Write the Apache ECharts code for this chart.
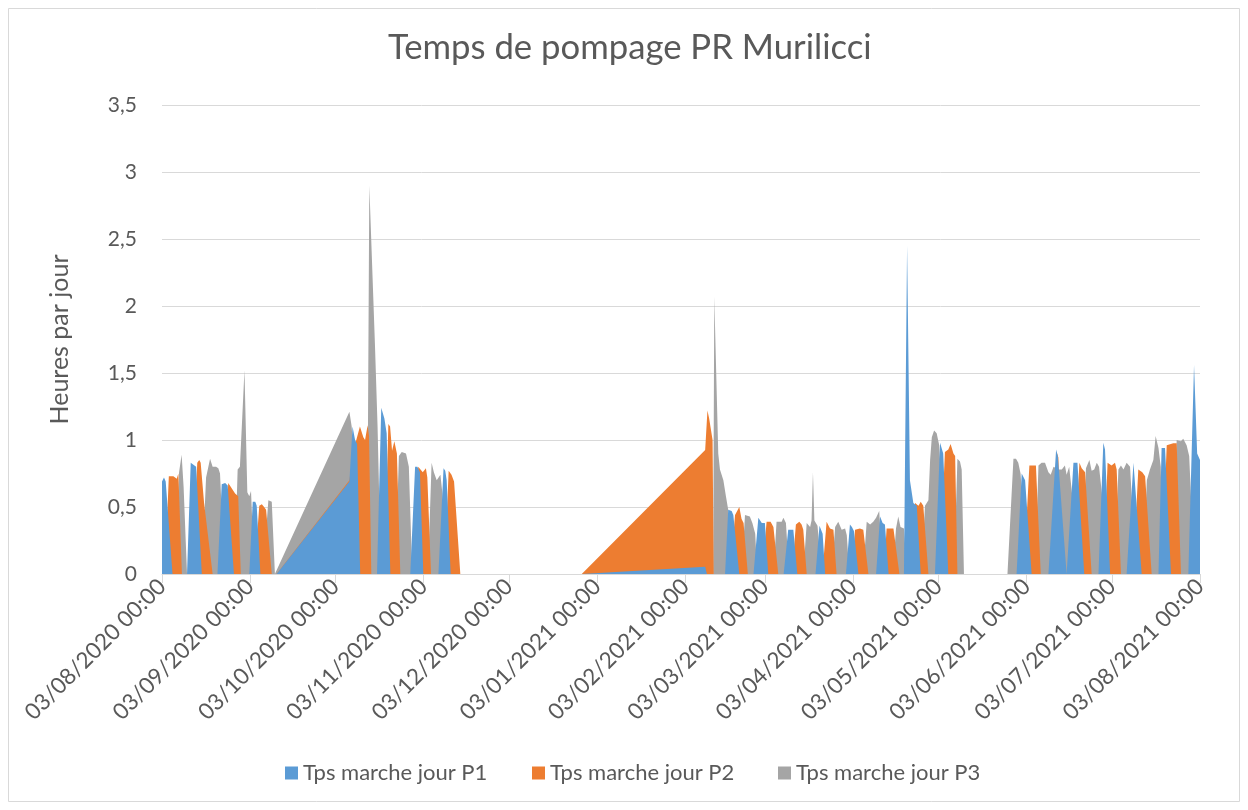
<!DOCTYPE html>
<html>
<head>
<meta charset="utf-8">
<script src="https://cdn.jsdelivr.net/npm/echarts@6/dist/echarts.min.js"></script>
<style>
html,body{margin:0;padding:0;background:#fff;}
#chart{width:1248px;height:810px;}
</style>
</head>
<body>
<div id="chart"></div>
<script>
// Tick labels of the date axis
const tickLabels = ['03/08/2020 00:00','03/09/2020 00:00','03/10/2020 00:00','03/11/2020 00:00','03/12/2020 00:00','03/01/2021 00:00','03/02/2021 00:00','03/03/2021 00:00','03/04/2021 00:00','03/05/2021 00:00','03/06/2021 00:00','03/07/2021 00:00','03/08/2021 00:00'];
const seriesNames = ['Tps marche jour P1','Tps marche jour P2','Tps marche jour P3'];

// Days elapsed since 03/08/2020 and hours per day, per pump
const p1Days = [0,0.7,1.3,3.7, 8.8,10.1,10.8,12.0,14.0, 19.5,21.0,22.2,23.1,25.3, 30.7,31.9,32.8,33.3,34.6,
  40.3,65.9,67.0,67.9,68.6,69.7, 75.6,77.1,78.2,79.0,80.3, 87.3,89.0,89.8,90.7,91.9, 97.2,99.0,99.6,100.1,101.5,
  147.6,191.0,191.6, 198.0,199.1,200.3,200.9,203.0, 208.0,209.7,210.9,212.0,213.2, 218.6,220.2,222.0,223.4,
  229.8,231.2,232.3,233.2, 240.5,241.9,242.6,243.3,244.9, 251.1,252.5,253.4,254.2,255.5,
  260.9,262.0,263.0,264.2,265.4,266.8, 271.8,273.6,274.7,275.3,276.5, 300.5,302.3,303.5,304.0,305.8,
  311.7,314.4,315.0,318.1, 318.7,320.5,321.9,324.3, 329.3,331.0,331.6,333.4, 339.2,341.6,342.1,344.5,
  350.4,351.5,352.7,354.8, 360.9,362.9,364.0,365.0];
const p1Vals = [0.69,0.72,0.69,0, 0,0.83,0.82,0.80,0, 0,0.67,0.68,0.66,0, 0,0.54,0.54,0.51,0,
  0,0.69,1.10,1.00,0.97,0, 0,1.24,1.16,1.05,0, 0,0.80,0.80,0.76,0, 0,0.79,0.77,0.70,0,
  0,0.055,0, 0,0.48,0.47,0.44,0, 0,0.42,0.38,0.38,0, 0,0.33,0.33,0,
  0,0.36,0.30,0, 0,0.37,0.35,0.32,0, 0,0.43,0.38,0.37,0,
  0,2.45,0.70,0.53,0.51,0, 0,0.98,0.90,0.90,0, 0,0.75,0.70,0.69,0,
  0,0.93,0.88,0, 0,0.83,0.83,0, 0,0.98,0.93,0, 0,0.83,0.83,0,
  0,0.94,0.94,0, 0,1.56,0.90,0.85];

const p2Days = [1.0,2.4,2.9,4.0,5.2,5.75,6.0,7.0, 10.6,12.4,13.1,13.6,14.8,17.8, 21.5,23.3,24.5,25.7,26.8,27.7,
  32.5,34.2,35.1,35.9,36.6,38.6, 40.3,65.9,67.5,68.2,69.6,70.8,71.4,72.3,72.8,73.6,
  78.2,79.6,80.2,80.9,81.7,82.6,83.8, 88.5,90.1,91.7,92.8,93.3,94.6, 99.3,100.8,101.8,102.7,104.9,
  147.6,191.0,191.8,192.4,193.6,194.0, 199.8,201.5,202.2,203.0,203.8,204.5,206.0,
  211.0,212.6,214.0,215.0,216.7, 221.5,222.9,224.1,224.9,225.5,226.7, 232.2,233.7,234.9,236.1,237.2,
  242.5,243.7,245.4,246.6,248.4, 253.8,254.8,257.2,259.3, 263.5,264.8,266.0,266.8,267.7,269.5,
  273.5,275.3,276.5,277.3,278.3,278.9,279.7, 303.0,305.0,306.4,307.3,309.0, 313.0,314.6,315.2,316.5,
  320.5,322.6,323.4,324.6,326.9, 331.0,332.5,333.9,335.1,335.7,337.2, 341.5,343.3,344.7,345.7,348.0,
  351.5,353.3,355.6,356.8,358.3];
const p2Vals = [0,0.73,0.74,0.73,0.71,0.75,0.74,0, 0,0.83,0.85,0.83,0.53,0, 0,0.68,0.64,0.60,0.58,0,
  0,0.51,0.52,0.50,0.48,0, 0,0.70,0.95,0.99,1.10,1.02,1.00,1.11,1.03,0,
  0,1.12,1.10,0.92,0.99,0.90,0, 0,0.80,0.76,0.79,0.72,0, 0,0.77,0.74,0.69,0,
  0,0.925,1.22,1.16,1.00,0, 0,0.44,0.43,0.50,0.41,0.38,0,
  0,0.39,0.39,0.35,0, 0,0.37,0.39,0.37,0.33,0, 0,0.39,0.34,0.33,0,
  0,0.33,0.34,0.33,0, 0,0.34,0.34,0, 0,0.53,0.51,0.54,0.51,0,
  0,0.91,0.93,0.97,0.90,0.88,0, 0,0.81,0.81,0.81,0, 0,0.91,0.87,0,
  0,0.83,0.79,0.76,0, 0,0.83,0.81,0.83,0.78,0, 0,0.78,0.76,0.73,0,
  0,0.96,0.975,0.975,0];

const p3Days = [4.6,6.0,6.9,7.6,8.8, 14.0,15.5,16.9,17.8,19.0,19.8,20.4,22.0, 25.5,26.6,27.4,28.0,29.0,30.0,30.7,31.3,32.5,
  35.5,37.4,38.0,38.6,39.7, 40.3,65.9,66.7,67.3,68.5, 71.6,72.4,72.9,74.9,75.8,77.0,
  82.0,83.3,84.3,85.8,86.8,88.0, 93.5,94.8,95.6,96.6,97.9,98.6,99.5,
  193.8,194.2,194.9,195.6,196.2,197.4,198.3,199.1,200.0, 203.8,205.0,206.7,207.6,208.6,209.3,
  215.0,216.1,217.9,218.5,219.4,220.5, 225.5,226.7,227.9,228.4,228.9,229.4,230.5,232.0,
  235.5,236.7,237.8,239.0,240.2,240.8,241.7, 246.5,247.8,249.0,250.1,251.1,252.2,253.5,
  257.0,258.1,258.9,259.7,260.9,262.0, 267.0,268.3,269.5,270.1,270.7,271.5,272.4,273.3,274.0,275.0,
  278.5,279.7,280.6,281.2,282.0, 297.3,299.4,300.3,301.1,301.9,303.0,304.0,
  307.0,308.2,309.3,310.5,311.7,312.5,313.5,315.2,316.4,317.5,318.1,319.0,320.0,321.0,
  323.5,324.9,326.1,326.9,327.8,328.7,329.5,330.5,331.5, 335.0,336.3,337.2,338.1,339.2,340.4,341.2,342.0,
  345.0,346.3,347.4,348.6,349.4,350.4,351.2,352.0, 355.0,356.8,357.4,358.3,359.1,360.3,361.2,362.0,363.0];
const p3Vals = [0,0.76,0.89,0.65,0, 0,0.72,0.86,0.80,0.80,0.79,0.75,0, 0,0.78,0.80,0.80,1.52,0.61,0.58,0.62,0,
  0,0.55,0.56,0.54,0, 0,1.21,1.10,0.90,0, 0,1.00,2.90,1.70,1.10,0,
  0,0.88,0.91,0.90,0.80,0, 0,0.83,0.76,0.70,0.74,0.60,0,
  0,2.07,2.07,0.90,0.78,0.70,0.58,0.48,0, 0,0.44,0.43,0.38,0.30,0,
  0,0.39,0.39,0.42,0.38,0, 0,0.38,0.35,0.40,0.76,0.40,0.36,0,
  0,0.35,0.39,0.33,0.34,0.29,0, 0,0.39,0.37,0.39,0.42,0.47,0,
  0,0.34,0.43,0.35,0.34,0, 0,0.51,0.55,0.85,1.02,1.07,1.05,0.96,0.70,0,
  0,0.86,0.84,0.78,0, 0,0.86,0.86,0.83,0.75,0.40,0,
  0,0.81,0.83,0.83,0.76,0.74,0.80,0.78,0.78,0.81,0.74,0.80,0.60,0,
  0,0.79,0.85,0.77,0.78,0.83,0.80,0.60,0, 0,0.78,0.81,0.78,0.83,0.80,0.50,0,
  0,0.70,0.78,0.85,1.03,0.94,0.80,0, 0,1.00,1.01,0.99,1.01,0.96,0.88,0.50,0];

const colors = ['#5B9BD5','#ED7D31','#A5A5A5'];
const FONT = 'Lato, "Open Sans", sans-serif';
const TXT = '#595959';

function parseDMY(s){ const p = s.split(' ')[0].split('/').map(Number); return Date.UTC(p[2], p[1]-1, p[0]); }
const DAY = 86400000;
const t0 = parseDMY(tickLabels[0]);
const tickDays = tickLabels.map(s => Math.round((parseDMY(s) - t0) / DAY));
const labelOf = {}; tickDays.forEach((d,i)=>{ labelOf[d] = tickLabels[i]; });
const pairs = (days, vals) => days.map((d,i)=>[d, vals[i]]);
const dataSets = [pairs(p1Days,p1Vals), pairs(p2Days,p2Vals), pairs(p3Days,p3Vals)];

function mkSeries(i){
  return {
    name: seriesNames[i], type:'line', data: dataSets[i], symbol:'none', smooth:false,
    itemStyle:{color: colors[i]},
    lineStyle:{width:0, opacity:0},
    areaStyle:{color: colors[i], opacity:1},
    silent:true
  };
}

const legendPos = [285, 532, 778];
const chart = echarts.init(document.getElementById('chart'), null, {renderer:'canvas'});
chart.setOption({
  backgroundColor:'#ffffff',
  animation:false,
  title:{text:'Temps de pompage PR Murilicci', left:388, top:30, padding:0,
    textStyle:{fontFamily:FONT, fontSize:34.7, fontWeight:'normal', color:TXT}},
  legend: legendPos.map((x,i)=>({
    left:x, top:762, padding:0, itemWidth:13, itemHeight:13, itemGap:0,
    textStyle:{fontFamily:FONT, fontSize:22, color:TXT},
    data:[{name:seriesNames[i], icon:'rect', itemStyle:{color:colors[i]}}]
  })),
  grid:{left:162, right:48, top:105, bottom:236, containLabel:false},
  xAxis:{
    type:'value', min:tickDays[0], max:tickDays[tickDays.length-1],
    axisLine:{show:true, onZero:false, lineStyle:{color:'#D9D9D9', width:1}},
    axisTick:{show:true, customValues:tickDays, length:9, lineStyle:{color:'#D9D9D9'}},
    axisLabel:{customValues:tickDays, rotate:45, margin:9, fontFamily:FONT, fontSize:22.5, color:TXT,
      formatter:(v)=> labelOf[v] !== undefined ? labelOf[v] : ''},
    splitLine:{show:false}
  },
  yAxis:{
    type:'value', min:0, max:3.5, interval:0.5,
    name:'Heures par jour', nameLocation:'middle', nameGap:90,
    nameTextStyle:{fontFamily:FONT, fontSize:25, color:TXT},
    axisLine:{show:false}, axisTick:{show:false},
    axisLabel:{margin:25, fontFamily:FONT, fontSize:21, color:TXT,
      formatter:(v)=> String(v).replace('.', ',')},
    splitLine:{lineStyle:{color:'#D9D9D9', width:1}}
  },
  graphic:[{type:'rect', shape:{x:8.5, y:8.5, width:1231, height:793},
    style:{fill:'none', stroke:'#D9D9D9', lineWidth:1}, silent:true, z:-1}],
  series:[mkSeries(2), mkSeries(1), mkSeries(0)]
});
</script>
</body>
</html>
